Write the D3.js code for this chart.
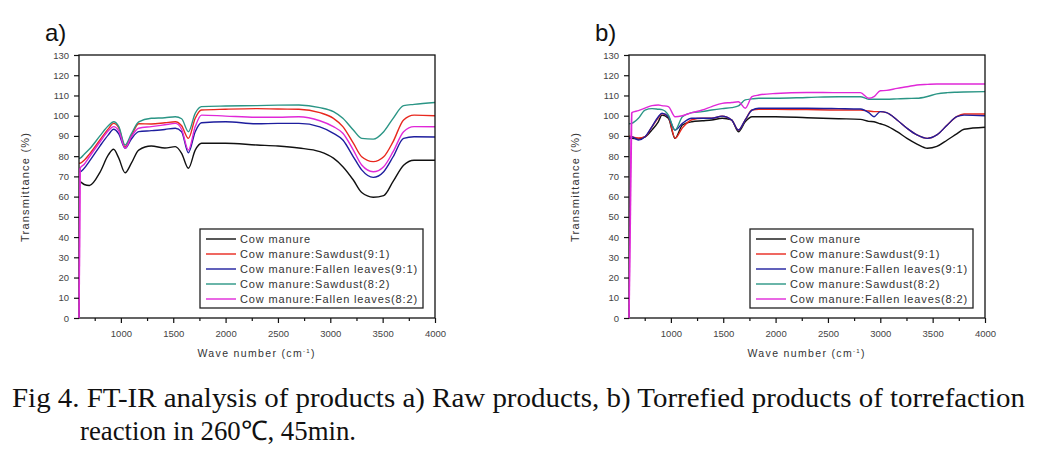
<!DOCTYPE html>
<html><head><meta charset="utf-8">
<script src="https://cdn.jsdelivr.net/npm/d3@7/dist/d3.min.js"></script>
<style>
body{margin:0;background:#fff;}
svg{display:block;}
</style></head>
<body>
<svg id="chart" width="1041" height="452"></svg>
<script>
// ---------- data ----------
const seriesNames = ["Cow manure","Cow manure:Sawdust(9:1)","Cow manure:Fallen leaves(9:1)","Cow manure:Sawdust(8:2)","Cow manure:Fallen leaves(8:2)"];
const seriesColors = ["#111111","#e8281e","#1e1e9e","#2a9585","#e028d8"];
const yTicks = [0,10,20,30,40,50,60,70,80,90,100,110,120,130];
const xTicks = [1000,1500,2000,2500,3000,3500,4000];
const xMinorTicks = [750,1250,1750,2250,2750,3250,3750];

// Panel a) raw products
const waveA = [600,610,650,700,800,880,930,980,1040,1100,1170,1290,1420,1520,1580,1645,1710,1770,2000,2300,2500,2700,2900,3030,3120,3220,3300,3410,3510,3600,3700,3800,4000];
const cowA      = [67.5,67.4,66,65.5,72,80.6,83.4,79,71.8,76.5,83,85,84,84.7,81.4,74,83,86.4,86.4,85.5,85,84,82.2,79,74.8,68.2,62,59.7,60.5,67.5,75.5,78,78];
const saw91A    = [76.5,76.5,78,81,88,93.5,96.2,94,84.7,90,96,95.9,96.5,97,95,88.8,98.7,102.8,103.2,103.5,103.3,103.2,101.5,98.7,94.6,86.4,79.7,77.3,79.7,87.2,97.9,100.3,100];
const leaf91A   = [72.3,72.3,74,77.5,85,90.5,93.3,91,83.9,88.5,92.1,92.6,93.2,93.8,92.1,81.7,92.1,96.5,97,96,96.2,96.2,94.5,91.3,88,79.7,73.2,69.5,72.3,79.7,88.8,89.6,89.5];
const saw82A    = [79,79,81,83.5,90,95,97,94.6,85.5,91,97,98.7,99,99.5,98.5,92.1,101.2,104.5,104.8,105,105.2,105.3,104,102,98.7,92.9,88.8,88.4,92.1,98.7,105,105.6,106.5];
const leaf82A   = [0,74,76,79.7,87,92.5,94.6,92.5,83.9,89.6,93.8,94.6,95.5,96.2,93.3,83,94.6,100.3,99.8,99.2,99.2,99.5,97.5,94.6,91.3,83,75.6,72.3,74.8,82.2,92.1,94.6,94.5];

// Panel b) torrefied products
const waveB = [600,626,690,753,820,880,915,976,1040,1110,1200,1300,1390,1490,1580,1645,1710,1775,1840,2000,2300,2600,2810,2890,2940,3000,3060,3160,3255,3350,3450,3540,3640,3730,3800,4000];
const cowB      = [89,88.8,88.5,89.5,93,97,100.3,98.7,88.8,95.4,97,97.5,97.9,98.7,97.9,92.1,97,99.5,99.5,99.5,99,98.5,98.2,97.2,97,96,95,92.1,88.8,86,83.9,84.8,88,91,93.3,94.3];
const saw91B    = [90,89.6,89,89.6,94.6,99,101,99.5,88.8,94,98,98.7,98.7,99.8,97.9,92.9,97.9,102.8,103.2,103.2,103,102.8,102.8,102.3,102,102,101.5,97.9,93.8,90.5,88.8,90.5,95.4,99.5,100.8,100.8];
const leaf91B   = [88.5,89.6,88,89.6,94.6,99.5,101.2,99.5,92.9,96.2,98.7,98.7,98.7,99.8,97.9,92.9,97.9,102.8,103.7,103.7,103.7,103.5,103.3,101.5,99.5,102,101.5,97.9,93.8,90.5,88.8,90.5,95.4,99.5,100.3,100];
const saw82B    = [96,96.2,98.7,102.8,103.5,103.2,103,100.3,92.9,99.5,101.5,102,102.8,103.5,104,104.8,107.8,108.3,108.6,108.6,109,109.4,109.4,108.1,108.1,108.1,108.1,108.3,108.5,108.6,109.5,110.8,111.4,111.6,111.7,111.9];
const leaf82B   = [0,101.5,102.5,103.7,105,105.3,105,104.5,99.5,100,101.5,102.8,104.5,106.1,106.5,106.9,103.7,109.4,110.2,111,111.5,111.4,111.4,108.6,109.4,112.3,112.5,113.5,114.3,115.2,115.5,115.7,115.7,115.7,115.7,115.7];

const panels = [
  {label:"a)", wave:waveA, series:[cowA,saw91A,leaf91A,saw82A,leaf82A], left:79, right:435, labelX:45},
  {label:"b)", wave:waveB, series:[cowB,saw91B,leaf91B,saw82B,leaf82B], left:629, right:985, labelX:595}
];

// ---------- drawing ----------
const svg = d3.select("#chart");
const plotTop = 55, plotBottom = 318;
const font = "Liberation Sans, Arial, sans-serif";

panels.forEach(p => {
  const x = d3.scaleLinear().domain([600,4000]).range([p.left,p.right]);
  const y = d3.scaleLinear().domain([0,130]).range([plotBottom,plotTop]);
  const g = svg.append("g");

  // panel label
  g.append("text").attr("x",p.labelX).attr("y",41).attr("font-family",font)
    .attr("font-size",24).attr("fill","#111").text(p.label);

  // lines
  const clipId = "clip"+p.label[0];
  svg.append("clipPath").attr("id",clipId).append("rect")
    .attr("x",p.left).attr("y",plotTop).attr("width",p.right-p.left).attr("height",plotBottom-plotTop);
  const line = d3.line().x((d,i)=>x(p.wave[i])).y(d=>y(d)).curve(d3.curveMonotoneX);
  p.series.forEach((s,k)=>{
    g.append("path").attr("d",line(s)).attr("fill","none")
      .attr("stroke",seriesColors[k]).attr("stroke-width",1.4)
      .attr("clip-path",`url(#${clipId})`);
  });

  // frame
  g.append("rect").attr("x",p.left).attr("y",plotTop).attr("width",p.right-p.left).attr("height",plotBottom-plotTop)
    .attr("fill","none").attr("stroke","#111").attr("stroke-width",1.3);
  // magenta drop at left edge drawn over the frame
  g.append("path").attr("d",line.curve(d3.curveLinear)(p.series[4].slice(0,2)))
    .attr("fill","none").attr("stroke",seriesColors[4]).attr("stroke-width",1.6);

  // y axis
  const ya = g.append("g").attr("transform",`translate(${p.left},0)`)
    .call(d3.axisLeft(y).tickValues(yTicks).tickSize(5).tickPadding(5));
  ya.select(".domain").remove();
  ya.selectAll("line").attr("stroke","#111").attr("stroke-width",1.2);
  ya.selectAll("text").attr("font-family",font).attr("font-size",9.5).attr("fill","#444");

  // x axis
  const xa = g.append("g").attr("transform",`translate(0,${plotBottom})`)
    .call(d3.axisBottom(x).tickValues(xTicks).tickSize(5).tickPadding(7).tickFormat(d3.format("d")));
  xa.select(".domain").remove();
  xa.selectAll("line").attr("stroke","#111").attr("stroke-width",1.2);
  xa.selectAll("text").attr("font-family",font).attr("font-size",9.5).attr("fill","#444");
  const xm = g.append("g").attr("transform",`translate(0,${plotBottom})`)
    .call(d3.axisBottom(x).tickValues(xMinorTicks).tickSize(3).tickFormat(""));
  xm.select(".domain").remove();
  xm.selectAll("line").attr("stroke","#111").attr("stroke-width",1.2);

  // axis titles
  const cx = (p.left+p.right)/2;
  const xt = g.append("text").attr("x",cx-1).attr("y",357).attr("text-anchor","middle")
    .attr("font-family",font).attr("font-size",10.5).attr("fill","#333");
  xt.append("tspan").text("Wave number (cm");
  xt.append("tspan").attr("font-size",6).attr("dy",-4).text("-1");
  xt.append("tspan").attr("dy",4).text(")");
  xt.attr("textLength",117).attr("lengthAdjust","spacing");

  g.append("text").attr("transform",`translate(${p.left-50},${(plotTop+plotBottom)/2+1}) rotate(-90)`)
    .attr("text-anchor","middle").attr("font-family",font).attr("font-size",11).attr("fill","#333")
    .attr("textLength",109).attr("lengthAdjust","spacing").text("Transmittance (%)");

  // legend
  const lx = p.left + 121, ly = 229, lw = 223, lh = 79;
  const lg = g.append("g");
  lg.append("rect").attr("x",lx).attr("y",ly).attr("width",lw).attr("height",lh)
    .attr("fill","#fff").attr("stroke","#222").attr("stroke-width",1.3);
  seriesNames.forEach((n,k)=>{
    const yy = ly + 10 + k*15;
    lg.append("line").attr("x1",lx+6).attr("x2",lx+36).attr("y1",yy).attr("y2",yy)
      .attr("stroke",seriesColors[k]).attr("stroke-width",1.4);
    lg.append("text").attr("class","legtxt").attr("x",lx+40).attr("y",yy+4)
      .attr("font-family",font).attr("font-size",11).attr("fill","#333").text(n);
  });
});

// legend letter-spacing to match wide spacing of original
(function(){
  const texts = svg.selectAll(".legtxt").nodes();
  const longest = texts[4];
  const w = longest.getComputedTextLength();
  const n = seriesNames[4].length;
  const ls = Math.max(0,(178 - w)/n);
  svg.selectAll(".legtxt").attr("letter-spacing",ls);
})();

// caption
const cap = svg.append("g").attr("font-family","Liberation Serif, Times New Roman, serif").attr("fill","#111");
cap.append("text").attr("x",12).attr("y",407).attr("font-size",27)
  .attr("textLength",1013).attr("lengthAdjust","spacingAndGlyphs")
  .text("Fig 4. FT-IR analysis of products a) Raw products, b) Torrefied products of torrefaction");
cap.append("text").attr("x",80).attr("y",440).attr("font-size",27)
  .attr("textLength",276).attr("lengthAdjust","spacingAndGlyphs")
  .text("reaction in 260℃, 45min.");
</script>
</body></html>
